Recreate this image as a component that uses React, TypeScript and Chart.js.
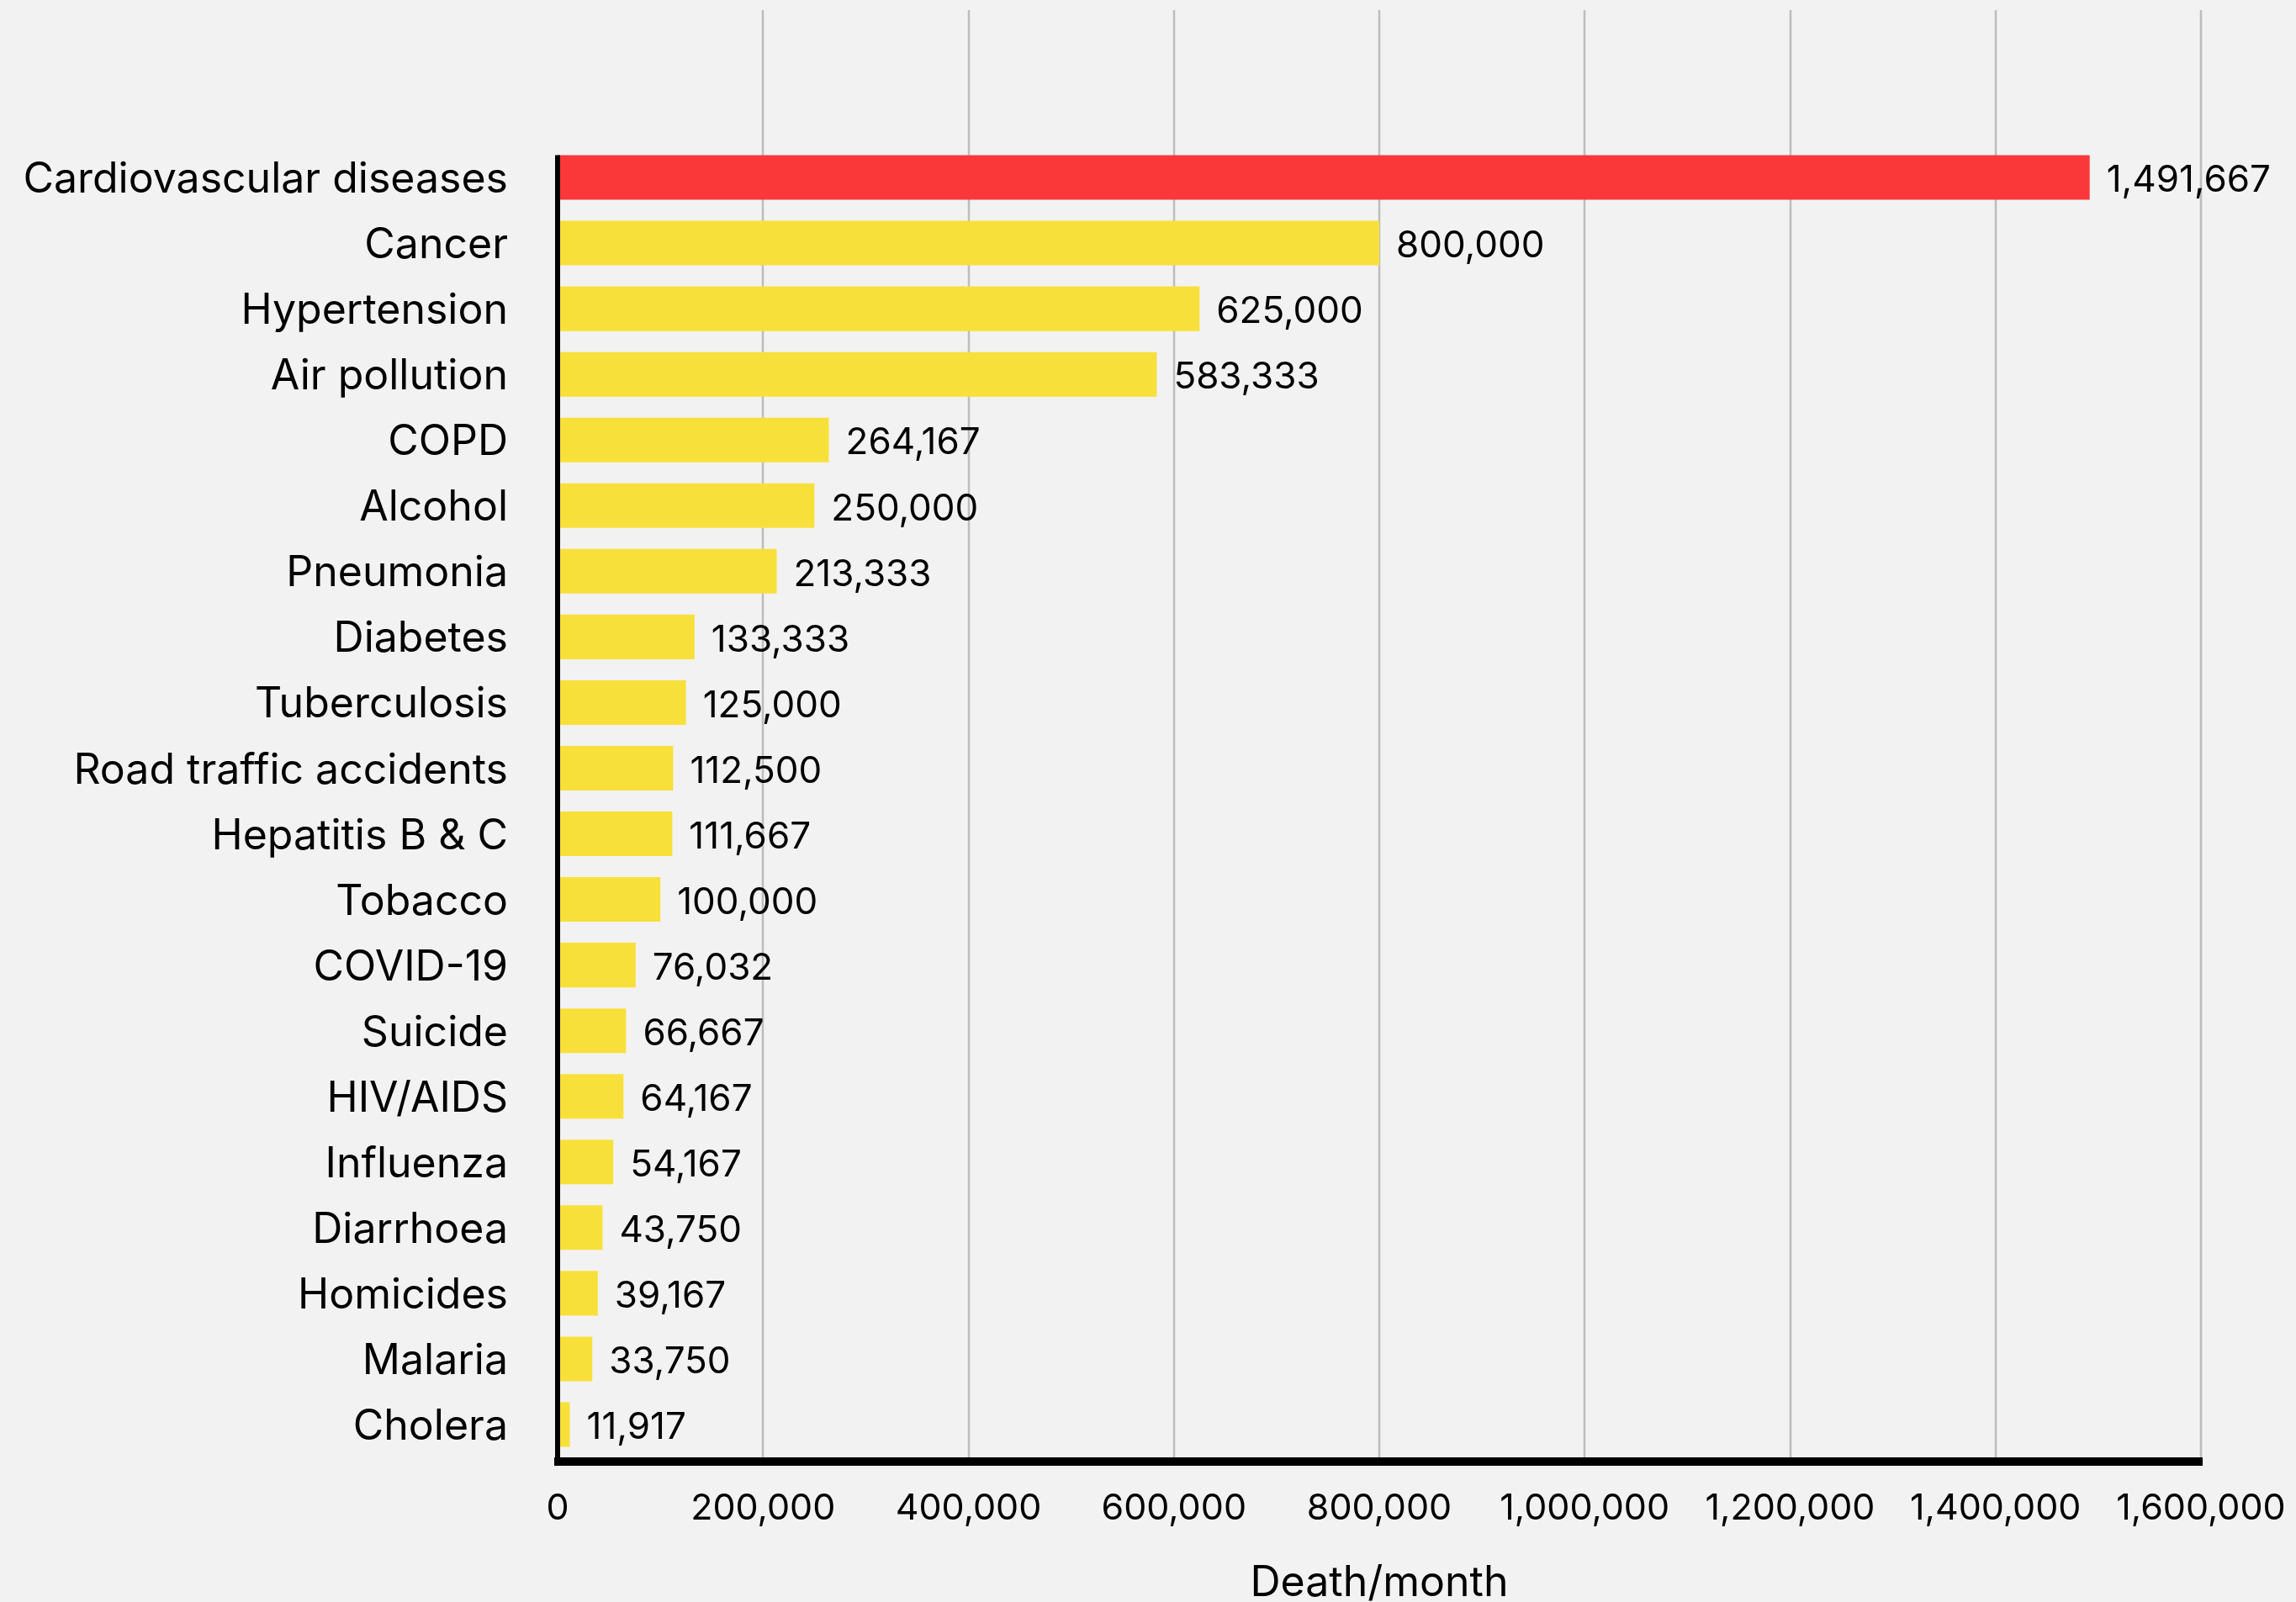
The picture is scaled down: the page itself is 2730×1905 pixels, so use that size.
import React, { useEffect, useRef } from 'react';
import { Chart, registerables } from 'chart.js';

Chart.register(...registerables);

const categories = [
  'Cardiovascular diseases',
  'Cancer',
  'Hypertension',
  'Air pollution',
  'COPD',
  'Alcohol',
  'Pneumonia',
  'Diabetes',
  'Tuberculosis',
  'Road traffic accidents',
  'Hepatitis B & C',
  'Tobacco',
  'COVID-19',
  'Suicide',
  'HIV/AIDS',
  'Influenza',
  'Diarrhoea',
  'Homicides',
  'Malaria',
  'Cholera',
];

const deathsPerMonth = [
  1491667, 800000, 625000, 583333, 264167, 250000, 213333, 133333, 125000, 112500,
  111667, 100000, 76032, 66667, 64167, 54167, 43750, 39167, 33750, 11917,
];

const xTickValues = [0, 200000, 400000, 600000, 800000, 1000000, 1200000, 1400000, 1600000];

const xAxisTitle = 'Death/month';

const HIGHLIGHT = '#FA383A';
const BASE = '#F8E03A';
const FONT = 'Inter, "Noto Sans", sans-serif';

const fmt = (v: number) => v.toLocaleString('en-US');

export default function App() {
  const ref = useRef<HTMLCanvasElement | null>(null);

  useEffect(() => {
    document.body.style.margin = '0';
    document.body.style.background = '#f2f2f2';
    const canvas = ref.current;
    if (!canvas) return;

    const bgPlugin = {
      id: 'bg',
      beforeDraw(chart: any) {
        const { ctx } = chart;
        ctx.save();
        ctx.fillStyle = '#f2f2f2';
        ctx.fillRect(0, 0, chart.width, chart.height);
        ctx.restore();
      },
    };

    const gridPlugin = {
      id: 'tallGrid',
      beforeDatasetsDraw(chart: any) {
        const { ctx, chartArea } = chart;
        const xs = chart.scales.x;
        ctx.save();
        ctx.strokeStyle = '#bdbdbd';
        ctx.lineWidth = 2.5;
        xs.ticks.forEach((t: any) => {
          if (t.value <= 0) return;
          const px = Math.round(xs.getPixelForValue(t.value));
          ctx.beginPath();
          ctx.moveTo(px, 12);
          ctx.lineTo(px, chartArea.bottom);
          ctx.stroke();
        });
        ctx.restore();
      },
    };

    const labelPlugin = {
      id: 'valueLabels',
      afterDatasetsDraw(chart: any) {
        const { ctx, chartArea } = chart;
        const meta = chart.getDatasetMeta(0);
        ctx.save();
        ctx.fillStyle = '#000';
        const first = meta.data[0];
        const firstTop = first.y - first.height / 2;
        ctx.fillRect(chartArea.left - 3, firstTop, 6, chartArea.bottom - firstTop);
        ctx.fillRect(chartArea.left - 4, chartArea.bottom, chartArea.right - chartArea.left + 6, 10);
        ctx.font = `44px ${FONT}`;
        ctx.textAlign = 'left';
        ctx.textBaseline = 'middle';
        ctx.fillStyle = '#000';
        meta.data.forEach((el: any, i: number) => {
          ctx.fillText(fmt(deathsPerMonth[i]), el.x + 20, el.y + 4);
        });
        ctx.restore();
      },
    };

    const chart = new Chart(canvas, {
      type: 'bar',
      data: {
        labels: categories,
        datasets: [
          {
            data: deathsPerMonth,
            backgroundColor: deathsPerMonth.map((_, i) => (i === 0 ? HIGHLIGHT : BASE)),
            borderWidth: 0,
            barPercentage: 0.68,
            categoryPercentage: 1,
          },
        ],
      },
      options: {
        indexAxis: 'y',
        responsive: false,
        animation: false,
        layout: { padding: { top: 172, right: 113, left: 0, bottom: 0 } },
        plugins: {
          legend: { display: false },
          tooltip: { enabled: false },
          title: { display: false },
        },
        scales: {
          x: {
            type: 'linear',
            min: 0,
            max: 1600000,
            afterBuildTicks(scale: any) {
              scale.ticks = xTickValues.map((v) => ({ value: v }));
            },
            afterFit(scale: any) {
              scale.height = 172;
              scale.paddingLeft = 0;
              scale.paddingRight = 0;
            },
            grid: { display: false, drawTicks: false },
            border: { display: false },
            ticks: {
              color: '#000',
              padding: 35,
              maxRotation: 0,
              autoSkip: false,
              font: { family: FONT, size: 43 },
              callback: (v: any) => fmt(Number(v)),
            },
            title: {
              display: true,
              text: xAxisTitle,
              color: '#000',
              font: { family: FONT, size: 50, lineHeight: 0.9 },
              padding: { top: 0, bottom: 0 },
            },
          },
          y: {
            type: 'category',
            afterFit(scale: any) {
              scale.width = 663;
              scale.paddingTop = 0;
              scale.paddingBottom = 0;
            },
            grid: { display: false, drawTicks: false },
            border: { display: false },
            ticks: {
              color: '#000',
              padding: 59,
              autoSkip: false,
              labelOffset: 3,
              font: { family: FONT, size: 50 },
            },
          },
        },
      },
      plugins: [bgPlugin, gridPlugin, labelPlugin],
    });

    return () => chart.destroy();
  }, []);

  return <canvas ref={ref} width={2730} height={1905} style={{ display: 'block', width: 2730, height: 1905 }} />;
}
